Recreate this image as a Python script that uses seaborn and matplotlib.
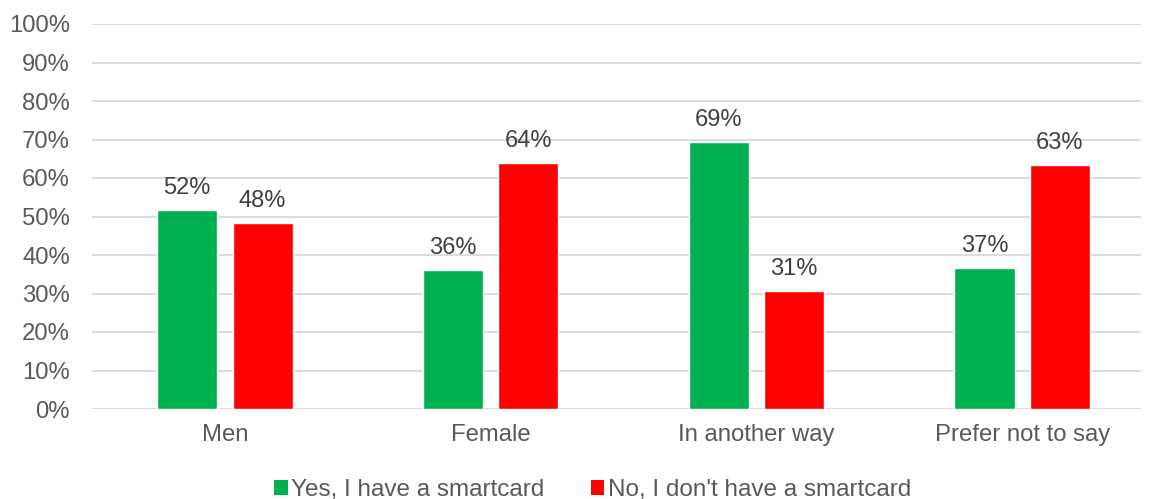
import matplotlib
matplotlib.use("Agg")
import matplotlib.pyplot as plt
from matplotlib.patches import Patch
import seaborn as sns
import pandas as pd

categories = ["Men", "Female", "In another way", "Prefer not to say"]
series_names = ["Yes, I have a smartcard", "No, I don't have a smartcard"]
yes_values = [51.7, 36.1, 69.3, 36.6]
no_values = [48.3, 63.9, 30.7, 63.4]
y_ticks = [0, 10, 20, 30, 40, 50, 60, 70, 80, 90, 100]
colors = ["#00B050", "#FF0000"]

df = pd.DataFrame({
    "category": categories * 2,
    "series": [series_names[0]] * 4 + [series_names[1]] * 4,
    "value": yes_values + no_values,
})

sns.set_theme(style="white")
plt.rcParams["font.family"] = ["Liberation Sans", "DejaVu Sans"]

fig = plt.figure(figsize=(11.49, 4.99), dpi=100)
ax = fig.add_axes([92 / 1149, 90 / 499, (1141 - 92) / 1149, 385 / 499])

sns.barplot(data=df, x="category", y="value", hue="series", order=categories,
            hue_order=series_names, palette=colors, width=0.568, gap=0.204,
            saturation=1, errorbar=None, legend=False, ax=ax, zorder=3)

for container in ax.containers:
    ax.bar_label(container, labels=[f"{v:.0f}%" for v in container.datavalues],
                 padding=8, fontsize=17, color="#404040")

ax.set_ylim(0, 100)
ax.set_xlim(-0.5, 3.447)
ax.set_yticks(y_ticks)
ax.set_yticklabels([f"{t}%" for t in y_ticks])
ax.yaxis.grid(True, color="#D9D9D9", linewidth=1.3, zorder=0)
ax.set_axisbelow(True)
ax.tick_params(axis="both", length=0, labelsize=17.2, colors="#595959")
ax.tick_params(axis="x", pad=11)
ax.tick_params(axis="y", pad=16)
ax.set_xlabel("")
ax.set_ylabel("")
for s in ax.spines.values():
    s.set_visible(False)

handles = [Patch(facecolor=c, edgecolor="none") for c in colors]
fig.legend(handles, series_names, loc="center", bbox_to_anchor=(0.5157, 0.018),
           ncol=2, frameon=False, fontsize=17.5, handlelength=0.55, handleheight=0.55,
           handletextpad=0.15, columnspacing=1.9, labelcolor="#595959")

fig.savefig("out.png", dpi=100)
